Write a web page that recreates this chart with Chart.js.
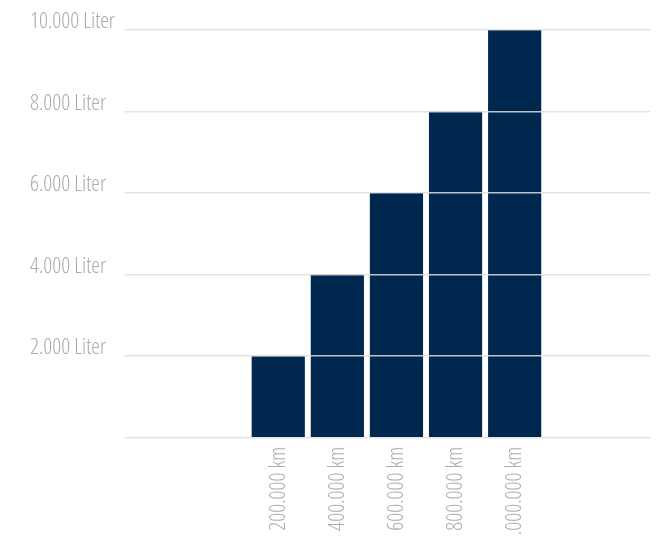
<!DOCTYPE html>
<html>
<head>
<meta charset="utf-8">
<script src="https://cdn.jsdelivr.net/npm/chart.js@4/dist/chart.umd.min.js"></script>
<style>
    html, body { margin: 0; padding: 0; background: #fff; }
    #wrap { width: 665px; height: 538px; }
</style>
</head>
<body>
<div id="wrap"><canvas id="fuelChart" width="665" height="538"></canvas></div>
<script>
// Distance categories and fuel values (Liter)
const categories = ['200.000 km', '400.000 km', '600.000 km', '800.000 km', '1.000.000 km'];
const liters = [2000, 4000, 6000, 8000, 10000];
const yUnit = 'Liter';

const textColor = '#ababab';
const barColor = '#00284f';
const gridColor = 'rgba(222, 222, 222, 0.85)';
// condensed light face, 'condensed' rides along in the weight slot of the font string
const font = { family: "'Open Sans', sans-serif", size: 22, weight: '300 condensed' };

// German style thousands separator
const formatNumber = v => String(v).replace(/\B(?=(\d{3})+(?!\d))/g, '.');

new Chart(document.getElementById('fuelChart'), {
    type: 'bar',
    data: {
        datasets: [{
            data: liters.map((v, i) => ({ x: i, y: v })),
            backgroundColor: barColor,
            borderWidth: 0,
            categoryPercentage: 1,
            barPercentage: 0.9
        }]
    },
    options: {
        responsive: false,
        animation: false,
        layout: { padding: { left: 30, right: 15, top: 30, bottom: 0 } },
        plugins: {
            legend: { display: false },
            tooltip: { enabled: false }
        },
        scales: {
            x: {
                type: 'linear',
                min: -2.5,
                max: 6.29,
                bounds: 'data',
                offset: false,
                grid: { display: false, drawTicks: false },
                border: { display: false },
                ticks: {
                    autoSkip: false,
                    minRotation: 90,
                    maxRotation: 90,
                    padding: 9,
                    color: textColor,
                    font: font,
                    callback: value => categories[value] ?? ''
                },
                afterBuildTicks: scale => {
                    scale.ticks = categories.map((c, i) => ({ value: i }));
                },
                afterFit: scale => { scale.height = 100.3; }
            },
            y: {
                min: 0,
                max: 10000,
                // grid lines run across the bars
                grid: { color: gridColor, lineWidth: 1.5, tickLength: 6, z: 1 },
                border: { display: false },
                ticks: {
                    stepSize: 2000,
                    crossAlign: 'far',
                    labelOffset: -8,
                    color: textColor,
                    font: font,
                    callback: value => value === 0 ? '' : formatNumber(value) + ' ' + yUnit
                },
                afterFit: scale => { scale.width = 100.5; }
            }
        }
    }
});
</script>
</body>
</html>
